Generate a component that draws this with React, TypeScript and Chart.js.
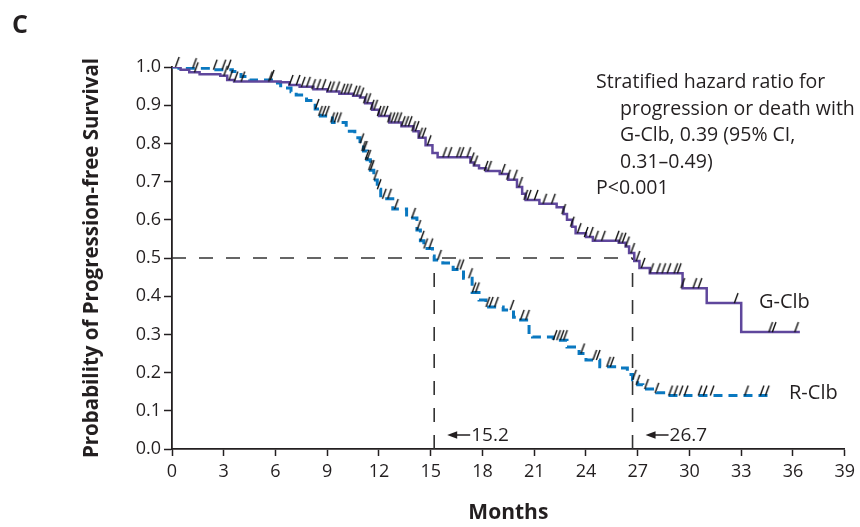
import React, { useEffect, useRef } from "react";
import { Chart, registerables } from "chart.js";

Chart.register(...registerables);

// ---- data ----
const xTicks = [0, 3, 6, 9, 12, 15, 18, 21, 24, 27, 30, 33, 36, 39];

const gClbTimes = [0, 0.5, 1.0, 1.6, 2.8, 3.2, 3.6, 6.3, 6.8, 7.4, 8.2, 9.0, 9.7, 10.5, 10.9, 11.2, 11.6, 12.0, 12.6, 13.3, 14.0, 14.3, 14.7, 15.1, 15.4, 17.3, 17.5, 17.8, 18.2, 19.0, 19.5, 20.0, 20.3, 20.5, 21.3, 22.3, 22.7, 22.9, 23.2, 23.4, 24.0, 24.4, 25.9, 26.3, 26.5, 26.8, 27.1, 27.7, 29.6, 31.0, 33.0, 36.4];
const gClbSurv = [1.0, 0.993, 0.986, 0.981, 0.977, 0.966, 0.962, 0.960, 0.953, 0.948, 0.942, 0.936, 0.930, 0.925, 0.920, 0.905, 0.888, 0.872, 0.855, 0.845, 0.832, 0.815, 0.795, 0.775, 0.764, 0.750, 0.742, 0.735, 0.728, 0.720, 0.705, 0.686, 0.668, 0.652, 0.642, 0.633, 0.615, 0.600, 0.582, 0.565, 0.555, 0.545, 0.540, 0.530, 0.513, 0.492, 0.474, 0.460, 0.421, 0.382, 0.306, 0.306];

const rClbTimes = [0, 0.4, 2.2, 3.5, 4.0, 4.5, 6.0, 6.3, 6.9, 7.2, 7.8, 8.3, 8.6, 9.3, 10.1, 10.6, 10.9, 11.1, 11.3, 11.5, 11.7, 11.9, 12.1, 12.8, 13.6, 14.2, 14.4, 14.6, 15.1, 15.2, 15.7, 16.3, 16.9, 17.4, 17.8, 18.2, 19.2, 19.8, 20.1, 20.7, 20.9, 22.1, 22.9, 23.6, 24.0, 24.8, 25.9, 26.4, 26.7, 27.0, 27.3, 28.1, 28.6, 34.8];
const rClbSurv = [1.0, 0.997, 0.993, 0.988, 0.975, 0.966, 0.958, 0.945, 0.935, 0.927, 0.912, 0.890, 0.872, 0.855, 0.832, 0.815, 0.800, 0.780, 0.757, 0.730, 0.704, 0.680, 0.655, 0.628, 0.605, 0.573, 0.545, 0.525, 0.505, 0.495, 0.487, 0.470, 0.447, 0.410, 0.390, 0.372, 0.364, 0.345, 0.338, 0.300, 0.293, 0.285, 0.267, 0.250, 0.233, 0.215, 0.212, 0.195, 0.181, 0.168, 0.157, 0.147, 0.140, 0.140];

const gClbCensor = [0.3, 1.4, 3.1, 3.4, 3.7, 4.1, 5.7, 6.9, 7.3, 7.6, 7.9, 8.2, 8.5, 8.8, 9.1, 9.3, 9.6, 9.9, 10.1, 10.3, 10.6, 10.8, 11.0, 11.2, 11.4, 11.6, 11.8, 12.0, 12.2, 12.4, 12.6, 12.8, 13.0, 13.2, 13.4, 13.6, 13.8, 14.0, 14.2, 14.4, 14.6, 14.9, 15.8, 16.1, 16.6, 16.8, 17.2, 17.4, 17.6, 18.2, 18.4, 19.2, 19.5, 19.9, 20.2, 20.5, 20.7, 21.1, 21.6, 22.1, 22.7, 23.2, 23.6, 24.0, 24.3, 24.6, 25.0, 25.8, 26.0, 26.2, 26.4, 26.7, 27.0, 27.3, 27.8, 28.2, 28.5, 28.8, 29.2, 29.4, 29.6, 30.3, 30.6, 32.7, 34.7, 34.9, 36.2];
const rClbCensor = [1.3, 2.5, 3.0, 3.3, 5.8, 8.4, 8.6, 8.8, 9.0, 9.3, 9.5, 9.7, 11.0, 11.1, 11.2, 11.3, 11.4, 11.5, 11.6, 11.8, 12.0, 12.3, 12.6, 13.0, 14.0, 14.3, 14.5, 14.7, 15.0, 15.5, 16.6, 16.8, 17.3, 17.5, 17.7, 18.3, 18.5, 18.8, 19.7, 20.3, 20.6, 22.2, 22.4, 22.6, 22.8, 23.8, 24.5, 24.7, 25.3, 25.5, 26.8, 27.0, 27.5, 28.1, 28.9, 29.2, 29.5, 29.8, 30.6, 30.9, 31.3, 33.3, 34.2, 34.5];

const medianR = 15.2;
const medianG = 26.7;
const halfLevel = 0.5;

const seriesLabels = ["G-Clb", "R-Clb"];
const hazardLines = [
  "Stratified hazard ratio for",
  "progression or death with",
  "G-Clb, 0.39 (95% CI,",
  "0.31\u20130.49)",
  "P<0.001",
];

// ---- helpers ----
const PURPLE = "#5f479c";
const BLUE = "#0a78c0";
const INK = "#231f20";
const FONT = "'Open Sans', 'DejaVu Sans', sans-serif";

function stepAt(times: number[], surv: number[], t: number) {
  let v = surv[0];
  for (let i = 0; i < times.length; i++) {
    if (times[i] <= t) v = surv[i];
  }
  return v;
}

function makeSlash() {
  const c = document.createElement("canvas");
  c.width = 8;
  c.height = 22;
  const g = c.getContext("2d")!;
  g.strokeStyle = "#111";
  g.lineWidth = 1.4;
  g.beginPath();
  g.moveTo(2.3, 11);
  g.lineTo(6.0, 1.0);
  g.stroke();
  return c;
}

const textPlugin = {
  id: "textPlugin",
  afterDraw(chart: any) {
    const ctx = chart.ctx as CanvasRenderingContext2D;
    const x = chart.scales.x;
    ctx.save();
    ctx.fillStyle = INK;
    ctx.textBaseline = "alphabetic";
    // panel letter
    ctx.font = `bold 25px ${FONT}`;
    ctx.fillText("C", 12, 33);
    // hazard text
    ctx.font = `19.5px ${FONT}`;
    const hx = [596, 620, 620, 620, 596];
    const hy = [88, 114.5, 141, 167.5, 194];
    hazardLines.forEach((s, i) => ctx.fillText(s, hx[i], hy[i]));
    // series labels
    ctx.font = `20px ${FONT}`;
    ctx.textBaseline = "middle";
    ctx.fillText(seriesLabels[0], 759, 302);
    ctx.fillText(seriesLabels[1], 789, 393);
    // median arrows
    ctx.font = `19px ${FONT}`;
    const drawArrow = (v: number) => {
      const px = x.getPixelForValue(v);
      const ay = 435;
      const x0 = px + 13;
      const x1 = px + 36;
      ctx.strokeStyle = INK;
      ctx.lineWidth = 1.5;
      ctx.beginPath();
      ctx.moveTo(x0 + 6, ay);
      ctx.lineTo(x1, ay);
      ctx.stroke();
      ctx.beginPath();
      ctx.moveTo(x0, ay);
      ctx.lineTo(x0 + 10, ay - 3.8);
      ctx.lineTo(x0 + 10, ay + 3.8);
      ctx.closePath();
      ctx.fill();
      ctx.fillText(v.toFixed(1), x1 + 1, ay + 1);
    };
    drawArrow(medianR);
    drawArrow(medianG);
    ctx.restore();
  },
};

export default function App() {
  const ref = useRef<HTMLCanvasElement | null>(null);

  useEffect(() => {
    if (!ref.current) return;
    const slash = makeSlash();
    const km = (t: number[], s: number[]) => t.map((v, i) => ({ x: v, y: s[i] }));
    const cens = (c: number[], t: number[], s: number[]) => c.map((v) => ({ x: v, y: stepAt(t, s, v) }));

    const refLine = (data: { x: number; y: number }[], label: string) => ({
      label,
      data,
      borderColor: "#333",
      borderWidth: 1.6,
      borderDash: [14, 13],
      pointRadius: 0,
      order: 5,
    });

    const chart = new Chart(ref.current, {
      type: "line",
      data: {
        datasets: [
          refLine([{ x: 0, y: halfLevel }, { x: medianG, y: halfLevel }], "ref-h"),
          refLine([{ x: medianR, y: 0 }, { x: medianR, y: halfLevel }], "ref-r"),
          refLine([{ x: medianG, y: 0 }, { x: medianG, y: halfLevel }], "ref-g"),
          {
            label: seriesLabels[1],
            data: km(rClbTimes, rClbSurv),
            borderColor: BLUE,
            borderWidth: 3,
            borderDash: [9, 6],
            stepped: "before",
            pointRadius: 0,
            order: 3,
          },
          {
            label: seriesLabels[0],
            data: km(gClbTimes, gClbSurv),
            borderColor: PURPLE,
            borderWidth: 2.5,
            stepped: "before",
            pointRadius: 0,
            order: 2,
          },
          {
            label: "cens-r",
            data: cens(rClbCensor, rClbTimes, rClbSurv),
            showLine: false,
            pointStyle: slash as any,
            pointRadius: 3,
            clip: false as any,
            order: 1,
          },
          {
            label: "cens-g",
            data: cens(gClbCensor, gClbTimes, gClbSurv),
            showLine: false,
            pointStyle: slash as any,
            pointRadius: 3,
            clip: false as any,
            order: 1,
          },
        ],
      },
      options: {
        animation: false,
        responsive: false,
        devicePixelRatio: 1,
        layout: { padding: { top: 67, right: 15, left: 0, bottom: 0 } },
        plugins: { legend: { display: false }, tooltip: { enabled: false } },
        events: [],
        scales: {
          x: {
            type: "linear",
            min: 0,
            max: 39,
            afterBuildTicks: (s: any) => {
              s.ticks = xTicks.map((v) => ({ value: v }));
            },
            afterFit: (s: any) => {
              s.height = 78;
            },
            grid: { drawOnChartArea: false, drawTicks: true, tickLength: 7, color: INK, tickWidth: 1.5 },
            border: { display: true, color: INK, width: 1.8 },
            ticks: { color: INK, font: { size: 18, family: FONT }, padding: 5, autoSkip: false, maxRotation: 0 },
            title: {
              display: true,
              text: "Months",
              color: INK,
              font: { size: 21, weight: "bold", family: FONT },
              padding: { top: 0, bottom: 1 },
            },
          },
          y: {
            type: "linear",
            min: 0,
            max: 1,
            afterFit: (s: any) => {
              s.width = 172;
            },
            grid: { drawOnChartArea: false, drawTicks: true, tickLength: 8, color: INK, tickWidth: 1.5 },
            border: { display: true, color: INK, width: 1.8 },
            ticks: {
              stepSize: 0.1,
              color: INK,
              font: { size: 18, family: FONT },
              padding: 3,
              callback: (v: any) => Number(v).toFixed(1),
            },
            title: {
              display: true,
              text: "Probability of Progression-free Survival",
              color: INK,
              font: { size: 20.5, weight: "bold", family: FONT },
              padding: { top: 80, bottom: 0 },
            },
          },
        },
      },
      plugins: [textPlugin],
    });
    return () => chart.destroy();
  }, []);

  return (
    <div style={{ position: "fixed", left: 0, top: 0, width: 860, height: 527, background: "#fff" }}>
      <canvas ref={ref} width={860} height={527} style={{ width: 860, height: 527, display: "block" }} />
    </div>
  );
}
